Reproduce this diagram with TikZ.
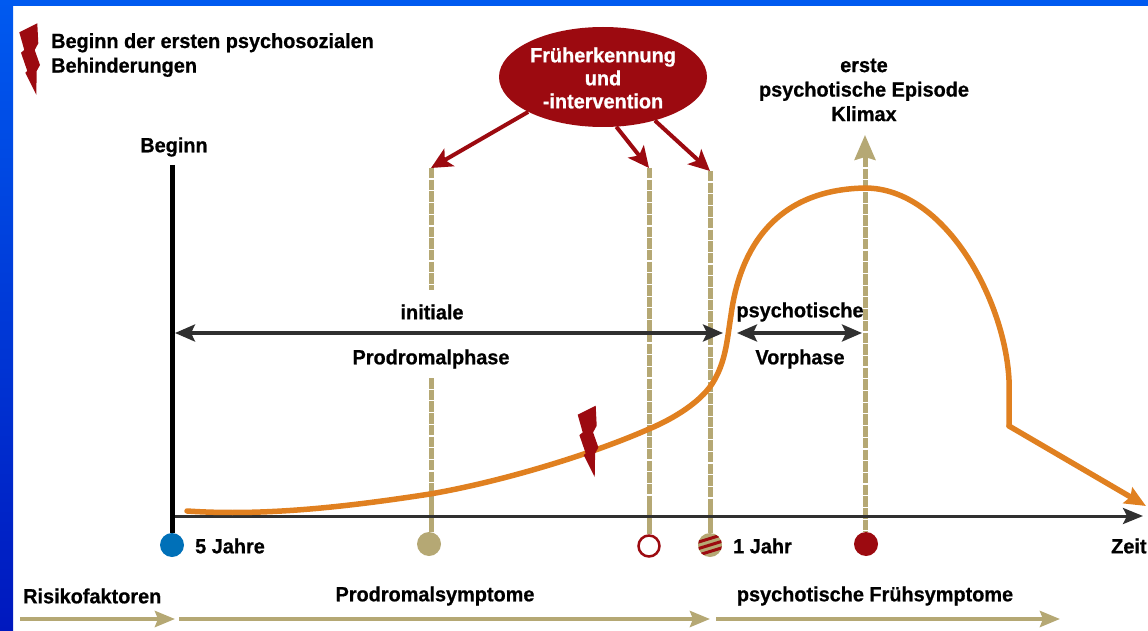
\documentclass[tikz,border=0pt]{standalone}
\usepackage{fontspec}
\setmainfont{Liberation Sans}[FakeStretch=0.97, BoldFeatures={FakeBold=0.7}]
\usetikzlibrary{arrows.meta}
\usetikzlibrary{shapes.geometric}

\definecolor{rahmentop}{RGB}{0,90,240}
\definecolor{rahmenbot}{RGB}{0,24,190}
\definecolor{dunkelrot}{RGB}{156,10,16}
\definecolor{sand}{RGB}{181,168,116}
\definecolor{kurve}{RGB}{224,128,32}
\definecolor{achse}{RGB}{48,48,48}
\definecolor{punktblau}{RGB}{0,112,184}

\tikzset{
  lbl/.style={font=\bfseries\fontsize{20.5}{24.5}\selectfont, inner sep=0pt, align=center, yshift=-1pt},
  lblleft/.style={lbl, anchor=west, align=left},
  axisline/.style={draw=achse, line width=3pt, -{Stealth[length=20pt,width=16pt,inset=4pt]}},
  phaseline/.style={draw=achse, line width=3.5pt, {Stealth[length=20pt,width=17pt,inset=4pt]}-{Stealth[length=20pt,width=17pt,inset=4pt]}},
  sandline/.style={draw=sand, line width=4pt, -{Stealth[length=20pt,width=16pt,inset=3pt]}},
  redline/.style={draw=dunkelrot, line width=4pt, -{Stealth[length=21pt,width=20pt,inset=5pt]}},
  markline/.style={draw=sand, line width=5pt, dash pattern=on 10.5pt off 1.2pt},
  marksolid/.style={draw=sand, line width=5pt},
  dot/.style={circle, minimum size=24pt, inner sep=0pt},
  bolt/.pic={
    \fill[dunkelrot] (37.3,23.3) -- (19.3,32.3) -- (24.3,50) -- (21,52.7) -- (27.3,71)
      -- (25.3,72.7) -- (36.3,94.7) -- (36.7,71) -- (40,65) -- (34.7,50) -- (38.3,43.3) -- cycle;
  }
}

\begin{document}
\begin{tikzpicture}[x=1pt,y=-1pt]
  \useasboundingbox (0,0) rectangle (1148,631);
  % frame
  \fill[rahmentop] (0,0) rectangle (1148,6);
  \shade[top color=rahmentop, bottom color=rahmenbot] (0,0) rectangle (13,631);

  % time points
  \node (pblau) [dot, fill=punktblau] at (172,545) {};
  \node (psand) [dot, fill=sand] at (429,544) {};
  \node (pring) [dot, fill=white, draw=dunkelrot, line width=2.5pt, minimum size=21pt] at (649,546) {};
  \node (pstreif) [dot, fill=sand, path picture={
      \foreach \d in {-6.5,0,6.5}
        \draw[dunkelrot, line width=3pt] (-13,\d+4) -- (13,\d-4);
    }] at (710,545) {};
  \node (prot) [dot, fill=dunkelrot] at (866,544) {};

  % marker lines
  \coordinate (msand) at (431,168);
  \coordinate (msandb) at (431,290);
  \coordinate (msandc) at (431,378);
  \coordinate (msandd) at (431,500);
  \coordinate (mring) at (649,168);
  \coordinate (mringb) at (649,500);
  \coordinate (mstreif) at (710,171);
  \coordinate (mstreifb) at (710,500);
  \coordinate (mklimax) at (865,135);
  \coordinate (mklimaxb) at (865,157);
  \draw[markline] (msand) -- (msandb);
  \draw[markline] (msandc) -- (msandd);
  \draw[marksolid] (msandd) -- (psand.north -| msandd);
  \draw[markline] (mring) -- (mringb);
  \draw[marksolid] (mringb) -- (pring.north);
  \draw[markline] (mstreif) -- (mstreifb);
  \draw[marksolid] (mstreifb) -- (pstreif.north);
  \draw[markline] (mklimaxb) -- (prot.north -| mklimaxb);
  \draw[sand, line width=4pt, -{Stealth[length=25pt,width=21pt,inset=3pt]}] (mklimaxb) -- (mklimax);

  % axes
  \coordinate (ybeg) at (172,165);
  \coordinate (xbeg) at (172,516);
  \coordinate (xend) at (1143,516);
  \draw[axisline] (xbeg) -- (xend);
  \draw[black, line width=5pt] (ybeg) -- (pblau.north);

  % phases
  \coordinate (pha) at (175,333);
  \coordinate (phb) at (723,333);
  \coordinate (phc) at (737,333);
  \coordinate (phd) at (862,333);
  \draw[phaseline] (pha) -- (phb);
  \draw[phaseline] (phc) -- (phd);

  % course
  \coordinate (kneu) at (1009,426);
  \coordinate (kend) at (1146,506);
  \draw[kurve, line width=5.5pt, line cap=round, line join=miter]
    (187,511) .. controls (260,516) and (340,508) .. (430,494)
    .. controls (500,482) and (590,455) .. (649,429)
    .. controls (675,418) and (700,402) .. (712,384)
    .. controls (726,362) and (727,340) .. (731,315)
    .. controls (737,270) and (760,190) .. (865,188)
    .. controls (945,188) and (1005,300) .. (1009,380) -- (kneu);
  \draw[kurve, line width=5.5pt, line cap=round, -{Stealth[length=21pt,width=18pt,inset=3pt]}] (kneu) -- (kend);

  \pic at (0,0) {bolt};
  \pic at (558.4,382.4) {bolt};

  % intervention
  \node (fi) [ellipse, fill=dunkelrot, minimum width=208pt, minimum height=100pt, inner sep=0pt] at (603,77) {};
  \node (fitxt) [lbl, text=white, font=\bfseries\fontsize{20.5}{23}\selectfont] at (603,77) {Früherkennung\\und\\-intervention};
  \draw[redline] (fi.205) -- (msand);
  \draw[redline] (fi.285) -- (mring);
  \draw[redline] (fi.320) -- (mstreif);

  % labels
  \node (lpsy) [lblleft] at (51,54) {Beginn der ersten psychosozialen\\Behinderungen};
  \node (lbeg) [lbl] at (174,146) {Beginn};
  \node (lklx) [lbl] at (864,89) {erste\\psychotische Episode\\Klimax};
  \node (lini) [lbl] at (432,311) {initiale};
  \node (lpro) [lbl] at (431,358) {Prodromalphase};
  \node (lpsv) [lbl] at (800,311) {psychotische};
  \node (lvor) [lbl] at (800,358) {Vorphase};
  \node (l5j) [lblleft] at (195,545) {5 Jahre};
  \node (l1j) [lblleft] at (733,545) {1 Jahr};
  \node (lzeit) [lblleft] at (1111,545) {Zeit};
  \node (lrisk) [lblleft] at (23,595) {Risikofaktoren};
  \node (lsym) [lbl] at (435,595) {Prodromalsymptome};
  \node (lfrueh) [lbl] at (875,595) {psychotische Frühsymptome};

  % bottom arrows
  \coordinate (ba) at (20,619);
  \coordinate (bb) at (175,619);
  \coordinate (bc) at (179,619);
  \coordinate (bd) at (710,619);
  \coordinate (be) at (716,619);
  \coordinate (bf) at (1060,619);
  \draw[sandline] (ba) -- (bb);
  \draw[sandline] (bc) -- (bd);
  \draw[sandline] (be) -- (bf);
\end{tikzpicture}
\end{document}
